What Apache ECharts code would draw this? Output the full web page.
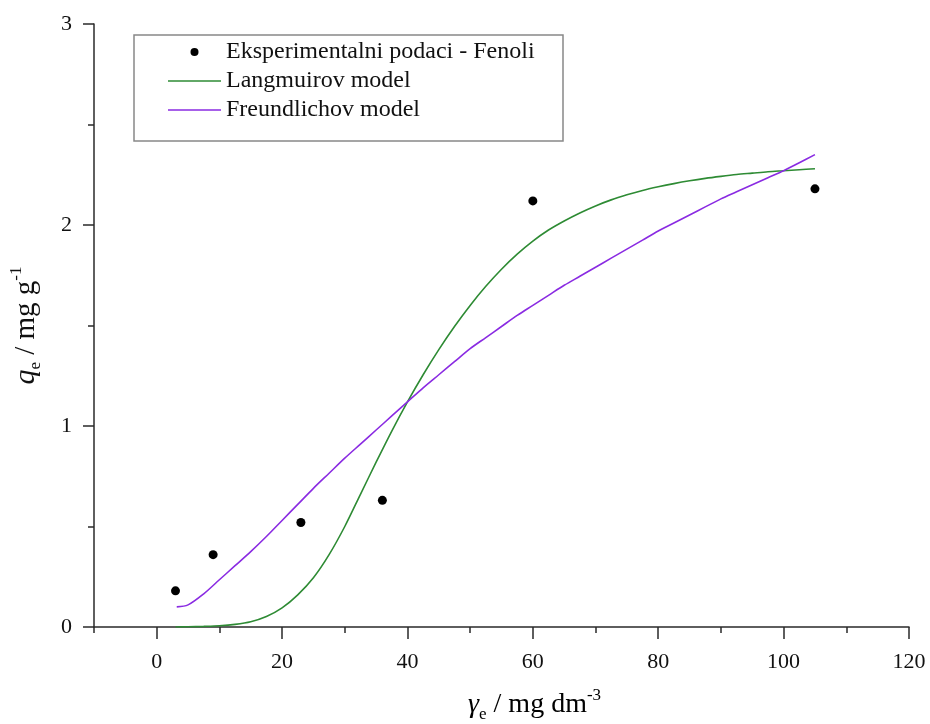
<!DOCTYPE html>
<html><head><meta charset="utf-8">
<script src="https://cdn.jsdelivr.net/npm/echarts@6/dist/echarts.min.js"></script>
<style>html,body{margin:0;padding:0;background:#fff}#c{width:930px;height:724px}</style>
</head><body><div id="c"></div>
<script>
// Experimental points
var expX = [3, 9, 23, 36, 60, 105];
var expY = [0.18, 0.36, 0.52, 0.63, 2.12, 2.18];
// Langmuir model curve
var langX = [3, 5, 7.5, 10, 12.5, 15, 17.5, 20, 22.5, 25, 27.5, 30, 32.5, 35, 37.5, 40, 42.5, 45, 47.5, 50, 52.5, 55, 57.5, 60, 62.5, 65, 67.5, 70, 72.5, 75, 77.5, 80, 82.5, 85, 87.5, 90, 92.5, 95, 97.5, 100, 102.5, 105];
var langY = [0, 0.001, 0.003, 0.006, 0.013, 0.026, 0.052, 0.095, 0.16, 0.245, 0.36, 0.50, 0.66, 0.82, 0.975, 1.12, 1.255, 1.38, 1.495, 1.60, 1.695, 1.78, 1.855, 1.92, 1.975, 2.02, 2.06, 2.095, 2.125, 2.15, 2.172, 2.19, 2.206, 2.22, 2.232, 2.242, 2.251, 2.258, 2.265, 2.27, 2.275, 2.28];
// Freundlich model curve
var freuX = [3.2, 5, 7.5, 10, 12.5, 15, 17.5, 20, 22.5, 25, 27.5, 30, 32.5, 35, 37.5, 40, 42.5, 45, 47.5, 50, 52.5, 55, 57.5, 60, 62.5, 65, 67.5, 70, 72.5, 75, 77.5, 80, 82.5, 85, 87.5, 90, 92.5, 95, 97.5, 100, 102.5, 105];
var freuY = [0.10, 0.11, 0.165, 0.235, 0.305, 0.375, 0.45, 0.53, 0.61, 0.69, 0.765, 0.84, 0.91, 0.98, 1.05, 1.12, 1.19, 1.255, 1.32, 1.385, 1.44, 1.495, 1.55, 1.60, 1.65, 1.70, 1.745, 1.79, 1.835, 1.88, 1.925, 1.97, 2.01, 2.05, 2.09, 2.13, 2.165, 2.20, 2.235, 2.27, 2.31, 2.35];
// Axis ticks
var xMajor = [0, 20, 40, 60, 80, 100, 120];
var xMinor = [-10, 10, 30, 50, 70, 90, 110];
var yMajor = [0, 1, 2, 3];
var yMinor = [0.5, 1.5, 2.5];
var legendNames = ['Eksperimentalni podaci - Fenoli', 'Langmuirov model', 'Freundlichov model'];

function pairs(xs, ys){ return xs.map(function(x,i){ return [x, ys[i]]; }); }

var FONT = '"Liberation Serif", "Times New Roman", serif';
var AX = '#2a2a2a';
var TXT = '#111';
var LINE_ICON = 'path://M0,0H53V1.6H0Z';
var chart = echarts.init(document.getElementById('c'), null, {renderer:'canvas'});
chart.setOption({
  animation: false,
  backgroundColor: '#fff',
  grid: {left: 94, right: 21, top: 24, bottom: 97, containLabel: false, outerBoundsMode: 'none'},
  legend: {
    orient: 'vertical', left: 168, top: 40, padding: 0,
    itemWidth: 53, itemHeight: 8, itemGap: 5,
    textStyle: {fontFamily: FONT, fontSize: 24, color: TXT, lineHeight: 24},
    data: [
      {name: legendNames[0], icon: 'circle'},
      {name: legendNames[1], icon: LINE_ICON},
      {name: legendNames[2], icon: LINE_ICON}
    ]
  },
  graphic: [
    {type: 'rect', shape: {x: 134, y: 35, width: 429, height: 106}, style: {fill: 'none', stroke: '#888', lineWidth: 1.5}, z: 0},
    {type: 'text', left: 468, top: 687, style: {
      text: '{g|γ}{s|e}{n| / mg dm}{p|-3}',
      rich: {
        g: {fontFamily: FONT, fontSize: 28, fontStyle: 'italic', color: TXT, lineHeight: 36, verticalAlign: 'middle'},
        s: {fontFamily: FONT, fontSize: 17, color: TXT, lineHeight: 36, verticalAlign: 'bottom'},
        n: {fontFamily: FONT, fontSize: 28, color: TXT, lineHeight: 36, verticalAlign: 'middle'},
        p: {fontFamily: FONT, fontSize: 17, color: TXT, lineHeight: 36, verticalAlign: 'top'}
      }
    }}
  ],
  xAxis: [
    {type: 'value', min: -10, max: 120, position: 'bottom',
     axisLine: {show: true, onZero: false, lineStyle: {color: AX, width: 1.5}},
     axisTick: {show: true, customValues: xMajor, length: 12, lineStyle: {color: AX, width: 1.5}},
     axisLabel: {customValues: xMajor, margin: 24, fontFamily: FONT, fontSize: 22, color: TXT},
     splitLine: {show: false}},
    {type: 'value', min: -10, max: 120, position: 'bottom',
     axisLine: {show: false, onZero: false},
     axisTick: {show: true, customValues: xMinor, length: 6, lineStyle: {color: AX, width: 1.5}},
     axisLabel: {show: false}, splitLine: {show: false}}
  ],
  yAxis: [
    {type: 'value', min: 0, max: 3, position: 'left',
     name: '{q|q}{s|e}{n| / mg g}{p|-1}', nameLocation: 'middle', nameGap: 50, nameRotate: 90,
     nameTextStyle: {rich: {
        q: {fontFamily: FONT, fontSize: 30, fontStyle: 'italic', color: TXT, lineHeight: 36, verticalAlign: 'middle'},
        s: {fontFamily: FONT, fontSize: 17, color: TXT, lineHeight: 36, verticalAlign: 'bottom'},
        n: {fontFamily: FONT, fontSize: 29, color: TXT, lineHeight: 36, verticalAlign: 'middle'},
        p: {fontFamily: FONT, fontSize: 17, color: TXT, lineHeight: 36, verticalAlign: 'top'}
     }},
     axisLine: {show: true, onZero: false, lineStyle: {color: AX, width: 1.5}},
     axisTick: {show: true, customValues: yMajor, length: 11, lineStyle: {color: AX, width: 1.5}},
     axisLabel: {customValues: yMajor, margin: 22, fontFamily: FONT, fontSize: 22, color: TXT},
     splitLine: {show: false}},
    {type: 'value', min: 0, max: 3, position: 'left',
     axisLine: {show: false, onZero: false},
     axisTick: {show: true, customValues: yMinor, length: 6, lineStyle: {color: AX, width: 1.5}},
     axisLabel: {show: false}, splitLine: {show: false}}
  ],
  series: [
    {name: legendNames[0], type: 'scatter', xAxisIndex: 0, yAxisIndex: 0, data: pairs(expX, expY),
     symbol: 'circle', symbolSize: 9, itemStyle: {color: '#000', opacity: 1}, z: 5},
    {name: legendNames[1], type: 'line', xAxisIndex: 0, yAxisIndex: 0, data: pairs(langX, langY),
     showSymbol: false, symbol: 'none', smooth: 0.3, lineStyle: {color: '#2e8b34', width: 1.6}, itemStyle: {color: '#2e8b34'}},
    {name: legendNames[2], type: 'line', xAxisIndex: 0, yAxisIndex: 0, data: pairs(freuX, freuY),
     showSymbol: false, symbol: 'none', smooth: 0.3, lineStyle: {color: '#8a2be2', width: 1.6}, itemStyle: {color: '#8a2be2'}}
  ]
});
</script></body></html>
